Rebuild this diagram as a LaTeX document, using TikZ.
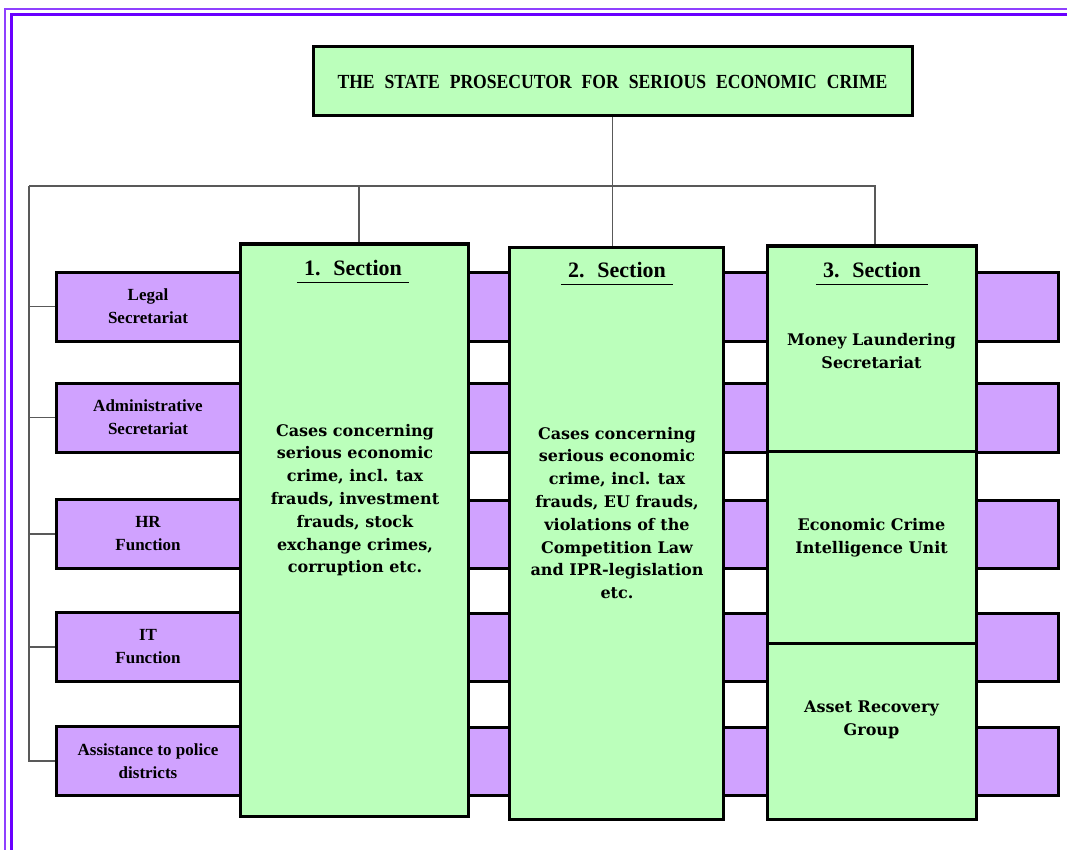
\documentclass[tikz,border=0pt]{standalone}
\usepackage{fontspec}
\setmainfont{Liberation Serif}
\newfontfamily\titlefont[FakeStretch=0.88]{Liberation Serif}
\newfontfamily\schoolfont{DejaVu Serif}
\definecolor{chartgreen}{HTML}{BBFFBB}
\definecolor{chartpurple}{HTML}{D0A2FF}
\definecolor{framepurple}{HTML}{6A00FF}
\tikzset{
  greenbox/.style={draw, line width=3pt, fill=chartgreen, inner sep=0pt},
  purplebox/.style={draw, line width=3pt, fill=chartpurple, inner sep=0pt,
    minimum width=184pt, minimum height=69pt, align=center,
    font=\fontsize{17}{23}\selectfont\bfseries},
  bodytext/.style={align=center, inner sep=0pt, font=\schoolfont\bfseries\fontsize{16}{22.8}\selectfont},
  headtext/.style={inner xsep=7pt, inner ysep=0pt, font=\fontsize{22}{26}\selectfont\bfseries},
  tie/.style={draw=black!65, line width=1.3pt},
}
\begin{document}
\begin{tikzpicture}[x=1pt,y=-1pt]
\useasboundingbox (0,0) rectangle (1067,850);
% page frame
\draw[framepurple!75, line width=2pt] (5,850) -- (5,9) -- (1067,9);
\draw[framepurple, line width=3pt] (11,850) -- (11,14.5) -- (1067,14.5);

% head of office
\node[greenbox, minimum width=599pt, minimum height=69pt,
  font=\titlefont\bfseries\fontsize{20}{24}\selectfont] (chief) at (612.5,81.5)
  {\spaceskip=10pt\relax THE STATE PROSECUTOR FOR SERIOUS ECONOMIC CRIME};

% bus lines
\coordinate (busL) at (29,186);
\coordinate (busR) at (875,186);
\coordinate (drop1) at (359,186);

% purple rows running behind the sections
\foreach \top/\bot in {272/341,383/452,500/568,613/681,727/795}
  \draw[line width=3pt, fill=chartpurple] (56,\top) rectangle (1058,\bot);

\node[purplebox] (legal) at (148,306.5) {Legal\\Secretariat};
\node[purplebox] (admin) at (148,417.5) {Administrative\\Secretariat};
\node[purplebox] (hr) at (148,534) {HR\\Function};
\node[purplebox] (it) at (148,647) {IT\\Function};
\node[purplebox] (assist) at (148,761) {Assistance to police\\districts};

% sections
\node[greenbox, minimum width=228pt, minimum height=572pt] (sec1) at (354,530) {};
\node[greenbox, minimum width=214pt, minimum height=572pt] (sec2) at (616,533) {};
\node[greenbox, minimum width=209pt, minimum height=205pt] (mlsec) at (871.5,348.5) {};
\node[greenbox, minimum width=209pt, minimum height=192pt] (ecu) at (871.5,547) {};
\node[greenbox, minimum width=209pt, minimum height=176pt] (arg) at (871.5,731) {};

\node[headtext, anchor=base] (head1) at (353,275) {1.~ Section};
\node[headtext, anchor=base] (head2) at (617,277) {2.~ Section};
\node[headtext, anchor=base] (head3) at (872,277) {3.~ Section};
\foreach \h in {head1,head2,head3}
  \draw[line width=1pt] ([yshift=-7pt]\h.base west) -- ([yshift=-7pt]\h.base east);

\node[bodytext] (text1) at (355,500) {Cases concerning\\serious economic\\crime, incl. tax\\frauds, investment\\frauds, stock\\exchange crimes,\\corruption etc.};
\node[bodytext] (text2) at (617,513) {Cases concerning\\serious economic\\crime, incl. tax\\frauds, EU frauds,\\violations of the\\Competition Law\\and IPR-legislation\\etc.};
\node[bodytext] (text3) at (871.5,351) {Money Laundering\\Secretariat};
\node[bodytext] (text4) at (871.5,538) {Economic Crime\\Intelligence Unit};
\node[bodytext] (text5) at (871.5,720) {Asset Recovery\\Group};

% connectors
\draw[tie] (chief.south) -- (chief.south |- sec2.north);
\draw[tie] (busL) -- (busR) -- (busR |- mlsec.north);
\draw[tie] (drop1) -- (drop1 |- sec1.north);
\draw[tie] (busL) |- (assist.west);
\foreach \n in {legal,admin,hr,it}
  \draw[tie] (busL |- \n.west) -- (\n.west);
\end{tikzpicture}
\end{document}
